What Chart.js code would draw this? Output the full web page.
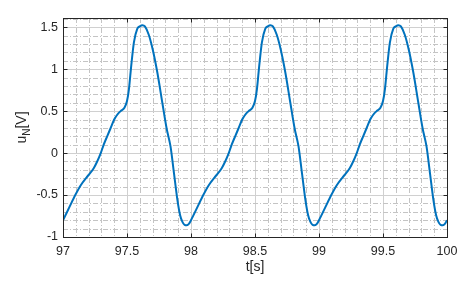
<!DOCTYPE html>
<html>
<head>
<meta charset="utf-8">
<script src="https://cdn.jsdelivr.net/npm/chart.js@4"></script>
<style>
  html, body { margin: 0; padding: 0; background: #fff; }
  #wrap { width: 474px; height: 288px; }
</style>
</head>
<body>
<div id="wrap"><canvas id="chart" width="474" height="288"></canvas></div>
<script>
// time samples [s] and voltage u_N [V]
const tValues = [
  97.000, 97.048, 97.096, 97.140, 97.200, 97.240, 97.267, 97.295, 97.318, 97.345,
  97.370, 97.400, 97.425, 97.450, 97.480, 97.500, 97.515, 97.533, 97.554, 97.580,
  97.600, 97.620, 97.640, 97.670, 97.700, 97.737, 97.776, 97.810, 97.840, 97.867,
  97.894, 97.915, 97.933, 97.950, 97.967, 97.985,
  98.000, 98.048, 98.096, 98.140, 98.200, 98.240, 98.267, 98.295, 98.318, 98.345,
  98.370, 98.400, 98.425, 98.450, 98.480, 98.500, 98.515, 98.533, 98.554, 98.580,
  98.600, 98.620, 98.640, 98.670, 98.700, 98.737, 98.776, 98.810, 98.840, 98.867,
  98.894, 98.915, 98.933, 98.950, 98.967, 98.985,
  99.000, 99.048, 99.096, 99.140, 99.200, 99.240, 99.267, 99.295, 99.318, 99.345,
  99.370, 99.400, 99.425, 99.450, 99.480, 99.500, 99.515, 99.533, 99.554, 99.580,
  99.600, 99.620, 99.640, 99.670, 99.700, 99.737, 99.776, 99.810, 99.840, 99.867,
  99.894, 99.915, 99.933, 99.950, 99.967, 99.985, 100.000
];
const uValues = [
  -0.80, -0.65, -0.50, -0.38, -0.26, -0.18, -0.10, 0.00, 0.10, 0.20,
  0.29, 0.40, 0.46, 0.50, 0.54, 0.62, 0.76, 1.04, 1.32, 1.48,
  1.51, 1.525, 1.51, 1.41, 1.24, 0.96, 0.60, 0.29, 0.08, -0.24,
  -0.56, -0.74, -0.82, -0.855, -0.86, -0.84,
  -0.80, -0.65, -0.50, -0.38, -0.26, -0.18, -0.10, 0.00, 0.10, 0.20,
  0.29, 0.40, 0.46, 0.50, 0.54, 0.62, 0.76, 1.04, 1.32, 1.48,
  1.51, 1.525, 1.51, 1.41, 1.24, 0.96, 0.60, 0.29, 0.08, -0.24,
  -0.56, -0.74, -0.82, -0.855, -0.86, -0.84,
  -0.80, -0.65, -0.50, -0.38, -0.26, -0.18, -0.10, 0.00, 0.10, 0.20,
  0.29, 0.40, 0.46, 0.50, 0.54, 0.62, 0.76, 1.04, 1.32, 1.48,
  1.51, 1.525, 1.51, 1.41, 1.24, 0.96, 0.60, 0.29, 0.08, -0.24,
  -0.56, -0.74, -0.82, -0.855, -0.86, -0.84, -0.80
];

const xTickValues = [97, 97.5, 98, 98.5, 99, 99.5, 100];
const xTickLabels = ['97', '97.5', '98', '98.5', '99', '99.5', '100'];
const yTickValues = [-1, -0.5, 0, 0.5, 1, 1.5];
const yTickLabels = ['-1', '-0.5', '0', '0.5', '1', '1.5'];

const axisColor = '#262626';
const fontFamily = '"Liberation Sans", Arial, Helvetica, sans-serif';

function labelFor(values, labels, v) {
  const i = values.findIndex(x => Math.abs(x - v) < 1e-6);
  return i >= 0 ? labels[i] : '';
}
function isMajor(values, v) {
  return values.some(x => Math.abs(x - v) < 1e-6);
}

// matlab style grid (major solid, minor dash-dot), box, inward ticks, axis titles
const matlabAxes = {
  id: 'matlabAxes',
  beforeDatasetsDraw(chart) {
    const { ctx, chartArea: a, scales: { x, y } } = chart;
    ctx.save();
    ctx.lineWidth = 1;
    x.ticks.forEach(t => {
      const px = Math.round(x.getPixelForValue(t.value)) + 0.5;
      const major = isMajor(xTickValues, t.value);
      ctx.strokeStyle = major ? '#d0d0d0' : '#c4c4c4';
      ctx.setLineDash(major ? [] : [5, 2, 1, 2]);
      ctx.beginPath(); ctx.moveTo(px, a.top); ctx.lineTo(px, a.bottom); ctx.stroke();
    });
    y.ticks.forEach(t => {
      const py = Math.round(y.getPixelForValue(t.value)) + 0.5;
      const major = isMajor(yTickValues, t.value);
      ctx.strokeStyle = major ? '#d0d0d0' : '#c4c4c4';
      ctx.setLineDash(major ? [] : [5, 2, 1, 2]);
      ctx.beginPath(); ctx.moveTo(a.left, py); ctx.lineTo(a.right, py); ctx.stroke();
    });
    ctx.restore();
  },
  afterDraw(chart) {
    const { ctx, chartArea: a, scales: { x, y } } = chart;
    const L = Math.round(a.left) + 0.5, R = Math.round(a.right) + 0.5;
    const T = Math.round(a.top) + 0.5, B = Math.round(a.bottom) + 0.5;
    ctx.save();
    ctx.strokeStyle = axisColor;
    ctx.lineWidth = 1;
    ctx.setLineDash([]);
    ctx.strokeRect(L, T, R - L, B - T);
    ctx.beginPath();
    xTickValues.forEach(v => {
      const px = Math.round(x.getPixelForValue(v)) + 0.5;
      ctx.moveTo(px, B); ctx.lineTo(px, B - 4);
      ctx.moveTo(px, T); ctx.lineTo(px, T + 4);
    });
    yTickValues.forEach(v => {
      const py = Math.round(y.getPixelForValue(v)) + 0.5;
      ctx.moveTo(L, py); ctx.lineTo(L + 4, py);
      ctx.moveTo(R, py); ctx.lineTo(R - 4, py);
    });
    ctx.stroke();

    // x title
    ctx.fillStyle = axisColor;
    ctx.font = '14px ' + fontFamily;
    ctx.textAlign = 'center';
    ctx.textBaseline = 'alphabetic';
    ctx.fillText('t[s]', (a.left + a.right) / 2, 271);

    // y title: u_N[V], rotated
    const cy = (a.top + a.bottom) / 2;
    ctx.translate(26, cy);
    ctx.rotate(-Math.PI / 2);
    ctx.textAlign = 'left';
    const big = '14px ' + fontFamily, small = '10px ' + fontFamily;
    ctx.font = big; const wu = ctx.measureText('u').width, wv = ctx.measureText('[V]').width;
    ctx.font = small; const wn = ctx.measureText('N').width;
    let sx = -(wu + wn + wv) / 2;
    ctx.font = big; ctx.fillText('u', sx, 0); sx += wu;
    ctx.font = small; ctx.fillText('N', sx, 4); sx += wn;
    ctx.font = big; ctx.fillText('[V]', sx, 0);
    ctx.restore();
  }
};

new Chart(document.getElementById('chart'), {
  type: 'line',
  data: {
    datasets: [{
      data: tValues.map((t, i) => ({ x: t, y: uValues[i] })),
      borderColor: '#0072BD',
      borderWidth: 2,
      pointRadius: 0,
      fill: false,
      cubicInterpolationMode: 'monotone'
    }]
  },
  options: {
    responsive: false,
    animation: false,
    events: [],
    layout: { padding: { top: 18, right: 27, bottom: 0, left: 0 } },
    plugins: { legend: { display: false }, tooltip: { enabled: false } },
    scales: {
      x: {
        type: 'linear',
        min: 97,
        max: 100,
        grid: { display: false, drawTicks: false },
        border: { display: false },
        afterFit: s => { s.height = 51; },
        ticks: {
          stepSize: 0.1,
          autoSkip: false,
          maxRotation: 0,
          includeBounds: false,
          padding: 7,
          color: axisColor,
          font: { family: fontFamily, size: 12.5 },
          callback: v => labelFor(xTickValues, xTickLabels, v)
        }
      },
      y: {
        type: 'linear',
        min: -1,
        max: 1.61,
        grid: { display: false, drawTicks: false },
        border: { display: false },
        afterFit: s => { s.width = 63; },
        ticks: {
          stepSize: 0.1,
          autoSkip: false,
          includeBounds: false,
          padding: 5,
          color: axisColor,
          font: { family: fontFamily, size: 12.5 },
          callback: v => labelFor(yTickValues, yTickLabels, v)
        }
      }
    }
  },
  plugins: [matlabAxes]
});
</script>
</body>
</html>
